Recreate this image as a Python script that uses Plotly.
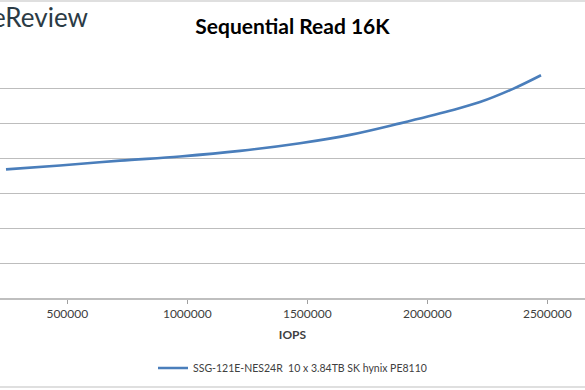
import plotly.graph_objects as go

# Data
iops = [244583, 469583, 719583, 969583, 1219583, 1469583, 1677917,
        1886250, 2094583, 2219583, 2357083, 2473750]
latency_ms = [0.369, 0.380, 0.394, 0.406, 0.422, 0.444, 0.468,
              0.501, 0.537, 0.562, 0.600, 0.639]
series_name = "SSG-121E-NES24R  10 x 3.84TB SK hynix PE8110"
x_ticks = [500000, 1000000, 1500000, 2000000, 2500000]
x_tick_labels = ["500000", "1000000", "1500000", "2000000", "2500000"]
y_ticks = [0, 0.1, 0.2, 0.3, 0.4, 0.5, 0.6, 0.7]

FONT = "Lato, 'Open Sans', sans-serif"

fig = go.Figure()
fig.add_trace(go.Scatter(
    x=iops, y=latency_ms, mode="lines", name=series_name,
    line=dict(color="#4a7ebb", width=2.6, shape="spline", smoothing=1.0),
))

fig.update_layout(
    width=585, height=390,
    paper_bgcolor="white", plot_bgcolor="white",
    margin=dict(l=0, r=0, t=54, b=92),
    font=dict(family=FONT, size=11, color="#404040"),
    title=dict(text="<b>Sequential Read 16K</b>", x=0.5, xanchor="center",
               y=1 - 27 / 390, yanchor="middle",
               font=dict(family=FONT, size=21, color="#000000")),
    showlegend=True,
    legend=dict(orientation="h", x=0.5, xanchor="center", y=-0.287,
                yanchor="middle", font=dict(family=FONT, size=10.5, color="#404040")),
    xaxis=dict(range=[219583, 2657083], showgrid=False, zeroline=False,
               tickvals=x_ticks, ticktext=x_tick_labels,
               ticks="outside", ticklen=4, tickcolor="#a0a0a0",
               showline=True, linecolor="#bfbfbf", linewidth=1.5,
               tickfont=dict(family=FONT, size=12, color="#404040"),
               title=dict(text="<b>IOPS</b>", standoff=10,
                          font=dict(family=FONT, size=12, color="#404040"))),
    yaxis=dict(range=[0, 0.7], tickvals=y_ticks, showticklabels=False,
               showgrid=True, gridcolor="#bdbdbd", gridwidth=1.4,
               zeroline=False, showline=False),
    annotations=[dict(text="StorageReview", xref="paper", yref="paper",
                      x=90 / 585, xanchor="right", y=1 + (54 - 17) / 244,
                      yanchor="middle", showarrow=False,
                      font=dict(family=FONT, size=26, color="#2b3b45"))],
    shapes=[dict(type="rect", xref="paper", yref="paper",
                 x0=-0.01, x1=1.01, y0=(298 - 387) / 244, y1=1 + (54 - 1) / 244,
                 line=dict(color="#c0c0c0", width=1.2), layer="below")],
)

fig.write_html("out.html", config={"displayModeBar": False},
               post_script="document.body.style.margin='0';")
